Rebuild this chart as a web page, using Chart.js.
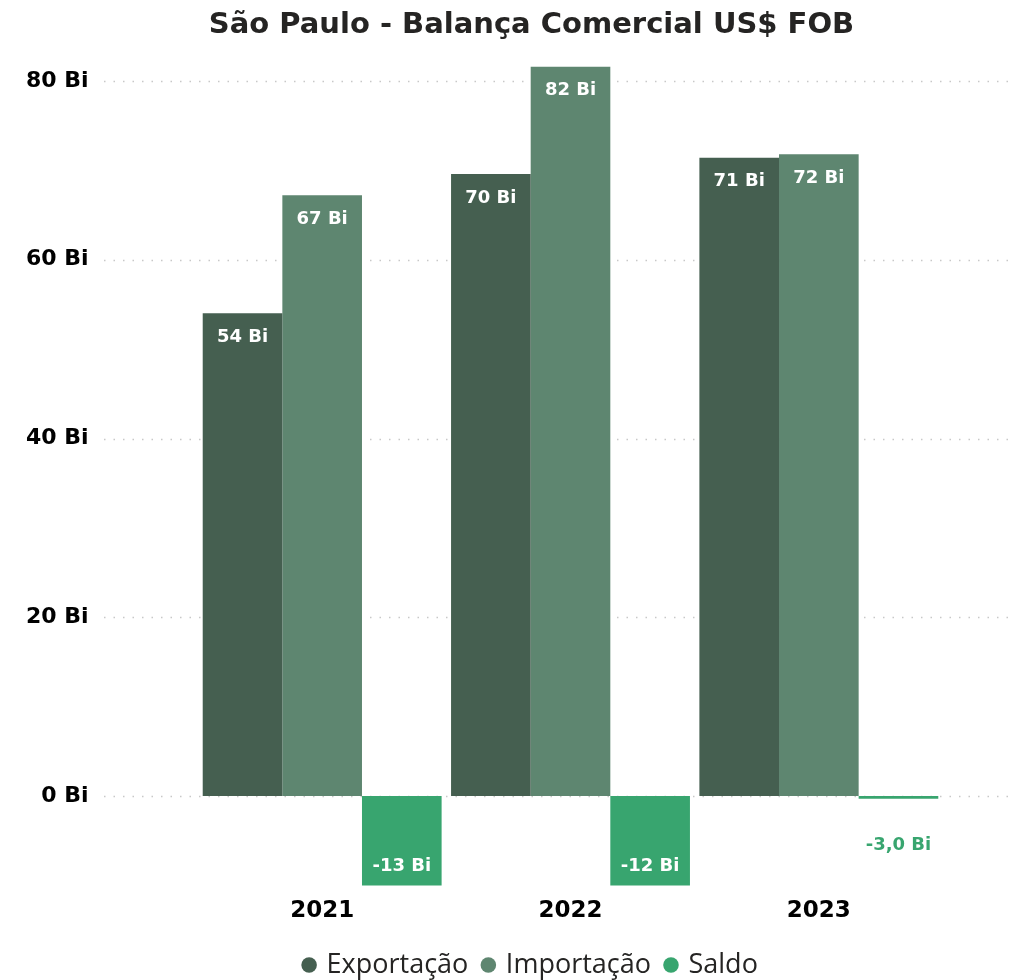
<!DOCTYPE html>
<html><head><meta charset="utf-8">
<script src="https://cdn.jsdelivr.net/npm/chart.js@4"></script>
<style>html,body{margin:0;padding:0;background:#fff;overflow:hidden}#wrap{width:1023px;height:980px;position:relative}canvas{display:block}</style>
</head><body><div id="wrap"><canvas id="c" width="1023" height="980"></canvas></div>
<script>
const categories = ["2021", "2022", "2023"];
const seriesNames = ["Exportação", "Importação", "Saldo"];
const exportacao = [54.0, 69.6, 71.4];
const importacao = [67.2, 81.6, 71.8];
const saldo = [-13.2, -12.0, -0.3];
const exportacaoLabels = ["54 Bi", "70 Bi", "71 Bi"];
const importacaoLabels = ["67 Bi", "82 Bi", "72 Bi"];
const saldoLabels = ["-13 Bi", "-12 Bi", "-3,0 Bi"];
const yTicks = [0, 20, 40, 60, 80];
const colors = ["#455F50", "#5E8670", "#38A56F"];

const dottedGrid = {
  id: 'dottedGrid',
  beforeDatasetsDraw(chart) {
    const y = chart.scales.y, ctx = chart.ctx;
    ctx.save();
    ctx.strokeStyle = '#c8c8c8';
    ctx.lineWidth = 1.5;
    ctx.setLineDash([1.5, 8]);
    y.ticks.forEach(t => {
      const py = Math.round(y.getPixelForValue(t.value)) + 0.5;
      ctx.beginPath(); ctx.moveTo(104, py); ctx.lineTo(1012, py); ctx.stroke();
    });
    ctx.restore();
  }
};

const valueLabels = {
  id: 'valueLabels',
  afterDatasetsDraw(chart) {
    const ctx = chart.ctx, area = chart.chartArea;
    ctx.save();
    ctx.font = 'bold 18px "DejaVu Sans", sans-serif';
    ctx.textAlign = 'center';
    ctx.textBaseline = 'middle';
    chart.data.datasets.forEach((ds, di) => {
      const meta = chart.getDatasetMeta(di);
      if (!meta.data) return;
      meta.data.forEach((bar, i) => {
        const v = ds.data[i], txt = ds.valueLabels[i];
        const top = Math.max(Math.min(bar.y, bar.base), area.top);
        const bottom = Math.min(Math.max(bar.y, bar.base), area.bottom);
        const h = bottom - top;
        if (v >= 0) {
          ctx.fillStyle = '#ffffff';
          ctx.fillText(txt, bar.x, top + 24);
        } else if (h > 40) {
          ctx.fillStyle = '#ffffff';
          ctx.fillText(txt, bar.x, bottom - 19);
        } else {
          ctx.fillStyle = ds.backgroundColor;
          ctx.fillText(txt, bar.x, bottom + 47);
        }
      });
    });
    ctx.restore();
  }
};

const hiddenSpacer = (pos, w, weight) => ({
  position: pos,
  display: true,
  weight: weight,
  grid: { display: false, drawTicks: false },
  border: { display: false },
  ticks: { display: false },
  afterFit(scale) { scale.width = w; }
});

new Chart(document.getElementById('c'), {
  type: 'bar',
  data: {
    labels: categories,
    datasets: [
      { label: seriesNames[0], data: exportacao, valueLabels: exportacaoLabels, backgroundColor: colors[0] },
      { label: seriesNames[1], data: importacao, valueLabels: importacaoLabels, backgroundColor: colors[1] },
      { label: seriesNames[2], data: saldo, valueLabels: saldoLabels, backgroundColor: colors[2] }
    ]
  },
  options: {
    responsive: false,
    animation: false,
    devicePixelRatio: 1,
    categoryPercentage: 0.962,
    barPercentage: 1.0,
    layout: { padding: { left: 40, right: 0, top: 0, bottom: -8.5 } },
    plugins: {
      title: {
        display: true,
        text: 'São Paulo - Balança Comercial US$ FOB',
        color: '#252423',
        font: { family: '"DejaVu Sans", sans-serif', size: 29, weight: 'bold' },
        padding: { top: 8, bottom: 15.8 }
      },
      legend: {
        position: 'bottom',
        labels: {
          usePointStyle: true,
          pointStyle: 'circle',
          boxWidth: 8,
          boxHeight: 11,
          padding: 16,
          color: '#252423',
          font: { family: '"Open Sans", sans-serif', size: 27 }
        }
      },
      tooltip: { enabled: false }
    },
    scales: {
      x: {
        grid: { display: false, drawTicks: false },
        border: { display: false },
        ticks: { color: '#000', padding: 12, font: { family: '"DejaVu Sans", sans-serif', size: 23, weight: 'bold' } },
        afterFit(scale) { scale.height = 50; }
      },
      y: {
        position: 'left',
        weight: 2,
        min: -10,
        max: 82.5,
        grid: { display: false, drawTicks: false },
        border: { display: false },
        afterBuildTicks(scale) { scale.ticks = yTicks.map(v => ({ value: v })); },
        afterFit(scale) { scale.width = 58; },
        ticks: {
          color: '#000',
          mirror: true,
          crossAlign: 'far',
          padding: -72,
          font: { family: '"DejaVu Sans", sans-serif', size: 22, weight: 'bold' },
          callback: v => v + ' Bi'
        }
      },
      ySpacerLeft: hiddenSpacer('left', 100, 1),
      ySpacerRight: hiddenSpacer('right', 80, 1)
    }
  },
  plugins: [dottedGrid, valueLabels]
});
</script>
</body></html>
